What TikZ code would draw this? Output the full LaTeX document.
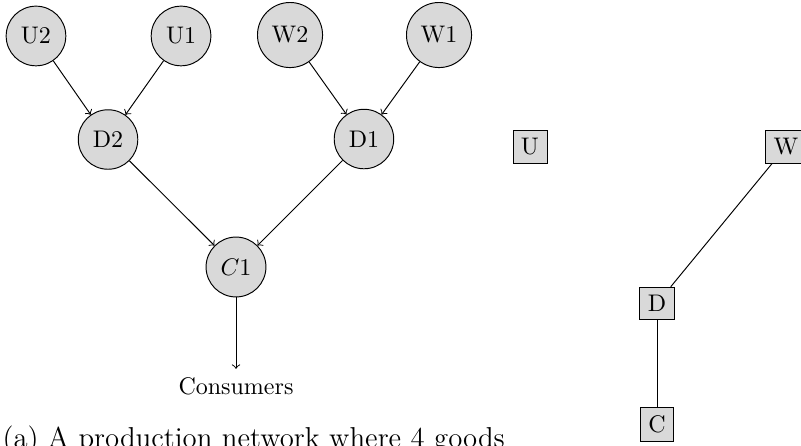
\documentclass[tikz,border=0pt]{standalone}
\usepackage{tikz}
\usetikzlibrary{arrows}
\definecolor{NodeGray}{RGB}{217, 217, 217}

\begin{document}
\begin{tikzpicture}[
    good/.style={draw, circle, fill=NodeGray, inner sep=3.8pt},
    sector/.style={draw, rectangle, fill=NodeGray}
  ]
    \useasboundingbox (0,0) rectangle (11.730,-6.531);
    % (a) production network
    \node[good] (U2) at (0.527,-0.527) {U2};
    \node[good] (U1) at (2.651,-0.527) {U1};
    \node[good] (W2) at (4.247,-0.513) {W2};
    \node[good] (W1) at (6.429,-0.513) {W1};
    \node[good] (D2) at (1.582,-2.043) {D2};
    \node[good] (D1) at (5.330,-2.036) {D1};
    \node[good] (C1) at (3.456,-3.910) {$C$1};
    \node (consumers) at (3.456,-5.652) {Consumers};
    \foreach \a/\b in {U2/D2, U1/D2, W2/D1, W1/D1, D2/C1, D1/C1, C1/consumers} {
      \draw[->] (\a) -- (\b);
    }
    \node[anchor=base west, inner sep=0pt] (captionA) at (0.03,-6.56) {\large (a) A production network where 4 goods};
    % (b) sectors
    \node[sector] (U) at (7.761,-2.150) {U};
    \node[sector] (W) at (11.510,-2.147) {W};
    \node[sector] (D) at (9.621,-4.444) {D};
    \node[sector] (C) at (9.621,-6.216) {C};
    \draw (W) -- (D);
    \draw (D) -- (C);
  \end{tikzpicture}
\end{document}
